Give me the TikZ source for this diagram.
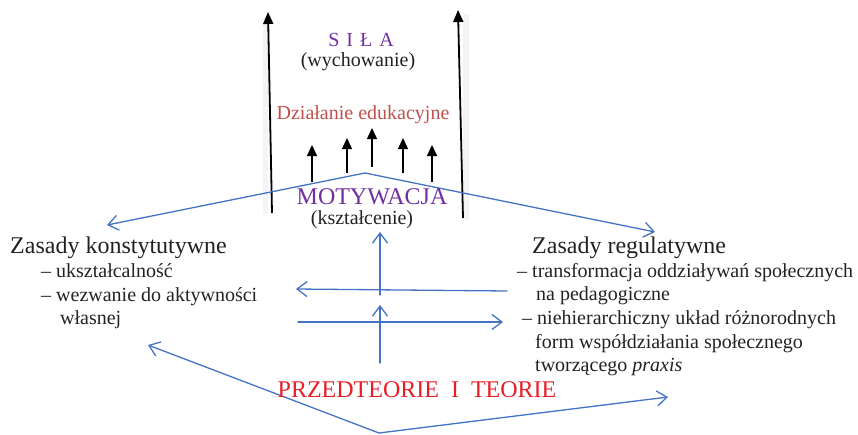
\documentclass[tikz,border=0pt]{standalone}
\usepackage{fontspec}
\setmainfont{Liberation Serif}
\usetikzlibrary{arrows.meta}
\definecolor{linkblue}{RGB}{68,114,196}
\definecolor{violetx}{RGB}{112,48,160}
\definecolor{brick}{RGB}{192,80,77}
\definecolor{brightred}{RGB}{232,30,38}
\definecolor{ink}{RGB}{34,34,34}
\definecolor{haze}{RGB}{242,244,247}
\begin{document}
\begin{tikzpicture}[x=1pt,y=-1pt,
  txt/.style={inner sep=0pt, text=ink, font=\fontsize{20}{24}\selectfont},
  head/.style={inner sep=0pt, text=ink, font=\fontsize{24}{28}\selectfont},
  flow/.style={draw=linkblue, line width=1.3pt, line cap=round,
    arrows={-Straight Barb[length=10pt,width=15pt,line width=1.3pt]}},
  flowboth/.style={flow, arrows={Straight Barb[length=10pt,width=15pt,line width=1.3pt]-Straight Barb[length=10pt,width=15pt,line width=1.3pt]}},
  lift/.style={draw=black, line width=1.8pt, -{Triangle[length=12pt,width=10pt]}},
  smalllift/.style={draw=black, line width=1.5pt, -{Triangle[length=11pt,width=10pt]}}]
\useasboundingbox (0,0) rectangle (858,434);

% faint bands along the two tall arrows
\fill[haze] (263,16) rectangle (268,214);
\fill[haze] (463,14) rectangle (469,220);

% end points of the connectors
\coordinate (lbot) at (272,213);
\coordinate (ltop) at (268,12);
\coordinate (rbot) at (463,218);
\coordinate (rtop) at (458,10);
\coordinate (a1b) at (312,182); \coordinate (a1t) at (312,145);
\coordinate (a2b) at (347,173); \coordinate (a2t) at (347,138);
\coordinate (a3b) at (372,167); \coordinate (a3t) at (372,128);
\coordinate (a4b) at (403,173); \coordinate (a4t) at (403,138);
\coordinate (a5b) at (432,182); \coordinate (a5t) at (432,145);
\coordinate (roofl) at (107,225);
\coordinate (roofp) at (365,173);
\coordinate (roofr) at (655,232);
\coordinate (upA0) at (380,295); \coordinate (upA1) at (380,232);
\coordinate (upB0) at (380,363); \coordinate (upB1) at (380,305);
\coordinate (hl0) at (507,291); \coordinate (hl1) at (296,289);
\coordinate (hr0) at (298,322); \coordinate (hr1) at (503,322);
\coordinate (vl) at (148,345);
\coordinate (vb) at (379,433);
\coordinate (vr) at (668,397);

% tall black arrows
\draw[lift] (lbot) -- (ltop);
\draw[lift] (rbot) -- (rtop);

% small black arrows
\foreach \k in {1,...,5} \draw[smalllift] (a\k b) -- (a\k t);

% blue connectors
\draw[flowboth] (roofl) -- (roofp) -- (roofr);
\draw[flow] (upA0) -- (upA1);
\draw[flow] (upB0) -- (upB1);
\draw[flow] (hl0) -- (hl1);
\draw[flow] (hr0) -- (hr1);
\draw[flowboth] (vl) -- (vb) -- (vr);

% central labels
\node[txt, text=violetx] (sila) at (361,40) {S\hspace{0.35em}I\hspace{0.35em}Ł\hspace{0.35em}A};
\node[txt] (wych) at (358,62) {(wychowanie)};
\node[txt, text=brick] (dzial) at (363,115) {Działanie edukacyjne};
\node[inner sep=0pt, text=violetx, font=\fontsize{24}{28}\selectfont] (motyw) at (372,197) {MOTYWACJA};
\node[txt] (kszt) at (362,220) {(kształcenie)};
\node[inner sep=0pt, text=brightred, font=\fontsize{24}{28}\selectfont] (przed) at (417,390) {PRZEDTEORIE\ \ I\ \ TEORIE};

% left column
\node[head, anchor=base west] (kz) at (10,253) {Zasady konstytutywne};
\node[txt, anchor=base west] (k1) at (41,277) {– ukształcalność};
\node[txt, anchor=base west] (k2) at (41,301) {– wezwanie do aktywności};
\node[txt, anchor=base west] (k3) at (60,324) {własnej};

% right column
\node[head, anchor=base west] (rz) at (532,253) {Zasady regulatywne};
\node[txt, anchor=base west] (r1) at (517,277) {– transformacja oddziaływań społecznych};
\node[txt, anchor=base west] (r2) at (536,300) {na pedagogiczne};
\node[txt, anchor=base west] (r3) at (522,324) {– niehierarchiczny układ różnorodnych};
\node[txt, anchor=base west] (r4) at (535,348) {form współdziałania społecznego};
\node[txt, anchor=base west] (r5) at (535,371) {tworzącego \textit{praxis}};
\end{tikzpicture}
\end{document}
